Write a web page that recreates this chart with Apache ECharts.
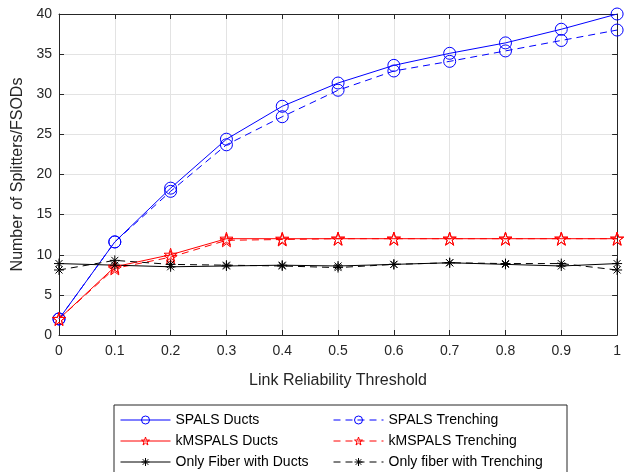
<!DOCTYPE html>
<html>
<head>
<meta charset="utf-8">
<script src="https://cdn.jsdelivr.net/npm/echarts@6/dist/echarts.min.js"></script>
<style>
  html, body { margin: 0; padding: 0; background: #fff; }
  #chart { width: 624px; height: 472px; }
</style>
</head>
<body>
<div id="chart"></div>
<script>
// link reliability threshold values
const thresholds = [0, 0.1, 0.2, 0.3, 0.4, 0.5, 0.6, 0.7, 0.8, 0.9, 1]
const spalsDucts = [2, 11.6, 18.3, 24.4, 28.5, 31.4, 33.6, 35.1, 36.4, 38.1, 40]
const spalsTrenching = [2, 11.6, 17.9, 23.7, 27.2, 30.5, 32.9, 34.1, 35.4, 36.7, 38]
const kmDucts = [2, 8.5, 10, 12, 12, 12, 12, 12, 12, 12, 12]
const kmTrenching = [2, 8.3, 9.7, 11.8, 11.9, 12, 12, 12, 12, 12, 12]
const fiberDucts = [8.9, 8.7, 8.5, 8.6, 8.7, 8.6, 8.8, 9.0, 8.8, 8.6, 8.9]
const fiberTrenching = [8.1, 9.3, 8.8, 8.7, 8.6, 8.4, 8.8, 9.0, 8.9, 8.9, 8.1]

const starPath = 'path://M0,-10 L2.245,-3.09 L9.51,-3.09 L3.63,1.18 L5.88,8.09 L0,3.82 L-5.88,8.09 L-3.63,1.18 L-9.51,-3.09 L-2.245,-3.09 Z'
const asteriskPath = 'path://M0,-10 L0,10 M-10,0 L10,0 M-7,-7 L7,7 M-7,7 L7,-7'
const font = 'Liberation Sans'
const axisColor = '#262626'

function pairs (ys) {
  return ys.map(function (y, i) { return [thresholds[i], y] })
}

function makeSeries (name, ys, color, dashed, symbol, size) {
  return {
    name: name,
    type: 'line',
    data: pairs(ys),
    symbol: symbol,
    symbolSize: size,
    showAllSymbol: true,
    lineStyle: { color: color, width: 1, type: dashed ? [7, 5] : 'solid' },
    itemStyle: { color: 'transparent', borderColor: color, borderWidth: 1 },
    emphasis: { disabled: true },
    animation: false
  }
}

function legendBlock (left, names) {
  return {
    orient: 'vertical',
    left: left,
    top: 413,
    height: 120,
    padding: 0,
    itemWidth: 50,
    itemHeight: 10,
    itemGap: 7,
    selectedMode: false,
    itemStyle: { color: 'transparent', borderWidth: 1 },
    lineStyle: { width: 1 },
    textStyle: { fontSize: 14, color: '#000', fontFamily: font },
    data: names
  }
}

let mychart = echarts.init(document.getElementById('chart'))
mychart.setOption({
  backgroundColor: '#fff',
  textStyle: { fontFamily: font },
  grid: {
    left: 59,
    right: 1,
    top: 14,
    bottom: 137
  },
  xAxis: [{
    type: 'value',
    min: 0,
    max: 1,
    interval: 0.1,
    name: 'Link Reliability Threshold',
    nameLocation: 'middle',
    nameGap: 38,
    nameTextStyle: { fontSize: 16, color: axisColor, fontFamily: font },
    axisLine: { show: true, onZero: false, lineStyle: { color: axisColor } },
    axisTick: { show: true, inside: true, length: 5, lineStyle: { color: axisColor } },
    axisLabel: {
      fontSize: 14,
      color: axisColor,
      margin: 9,
      fontFamily: font,
      formatter: function (v) { return String(Math.round(v * 10) / 10) }
    },
    splitLine: { show: true, lineStyle: { color: '#e3e3e3' } }
  }, {
    type: 'value',
    position: 'top',
    min: 0,
    max: 1,
    interval: 0.1,
    axisLine: { show: true, onZero: false, lineStyle: { color: axisColor } },
    axisTick: { show: true, inside: true, length: 5, lineStyle: { color: axisColor } },
    axisLabel: { show: false },
    splitLine: { show: false }
  }],
  yAxis: [{
    type: 'value',
    min: 0,
    max: 40,
    interval: 5,
    name: 'Number of Splitters/FSODs',
    nameLocation: 'middle',
    nameGap: 32,
    nameTextStyle: { fontSize: 16, color: axisColor, fontFamily: font },
    axisLine: { show: true, onZero: false, lineStyle: { color: axisColor } },
    axisTick: { show: true, inside: true, length: 5, lineStyle: { color: axisColor } },
    axisLabel: { fontSize: 14, color: axisColor, margin: 7, fontFamily: font },
    splitLine: { show: true, lineStyle: { color: '#e3e3e3' } }
  }, {
    type: 'value',
    position: 'right',
    min: 0,
    max: 40,
    interval: 5,
    axisLine: { show: true, onZero: false, lineStyle: { color: axisColor } },
    axisTick: { show: true, inside: true, length: 5, lineStyle: { color: axisColor } },
    axisLabel: { show: false },
    splitLine: { show: false }
  }],
  graphic: [{
    type: 'rect',
    shape: { x: 114, y: 405, width: 453, height: 80 },
    style: { fill: '#fff', stroke: axisColor, lineWidth: 1 },
    z: -1,
    silent: true
  }],
  legend: [
    legendBlock(120, ['SPALS Ducts', 'kMSPALS Ducts', 'Only Fiber with Ducts']),
    legendBlock(333, ['SPALS Trenching', 'kMSPALS Trenching', 'Only fiber with Trenching'])
  ],
  series: [
    makeSeries('SPALS Ducts', spalsDucts, '#0000ff', false, 'circle', 12),
    makeSeries('SPALS Trenching', spalsTrenching, '#0000ff', true, 'circle', 12),
    makeSeries('kMSPALS Ducts', kmDucts, '#ff0000', false, starPath, 13),
    makeSeries('kMSPALS Trenching', kmTrenching, '#ff0000', true, starPath, 13),
    makeSeries('Only Fiber with Ducts', fiberDucts, '#000000', false, asteriskPath, 10),
    makeSeries('Only fiber with Trenching', fiberTrenching, '#000000', true, asteriskPath, 10)
  ]
})
</script>
</body>
</html>
